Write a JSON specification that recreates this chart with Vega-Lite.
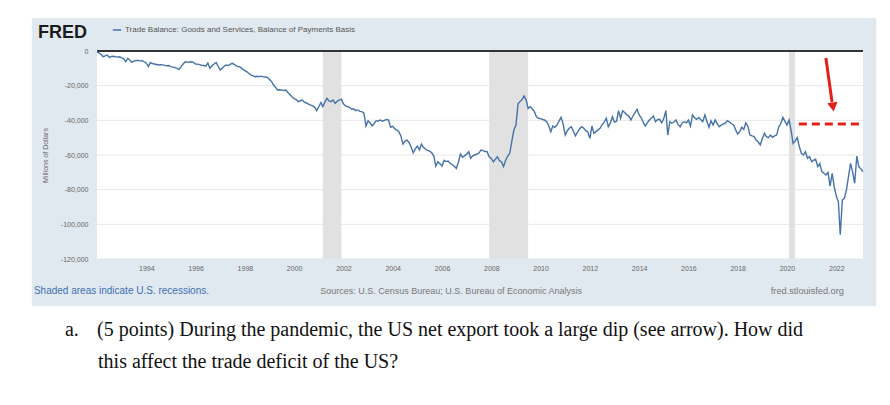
{
  "$schema": "https://vega.github.io/schema/vega-lite/v6.json",
  "width": 766,
  "height": 208,
  "autosize": {"type": "none"},
  "padding": {"left": 97, "top": 51, "right": 27, "bottom": 146},
  "background": "white",
  "config": {
    "view": {"stroke": null},
    "axis": {"labelFont": "Liberation Sans", "labelFontSize": 7, "labelColor": "#666", "titleFont": "Liberation Sans", "titleFontSize": 7, "titleFontWeight": "normal", "titleColor": "#666", "domain": false, "ticks": false, "grid": false, "labelOverlap": false},
    "legend": {"labelFont": "Liberation Sans"}
  },
  "datasets": {
    "tb": [
      {"month":"1992-01","value":-400},{"month":"1992-02","value":-1200},{"month":"1992-03","value":-2000},{"month":"1992-04","value":-3300},{"month":"1992-05","value":-2800},{"month":"1992-06","value":-2300},{"month":"1992-07","value":-3700},{"month":"1992-08","value":-3200},{"month":"1992-09","value":-3000},{"month":"1992-10","value":-3300},{"month":"1992-11","value":-3500},{"month":"1992-12","value":-3300},
      {"month":"1993-01","value":-4000},{"month":"1993-02","value":-4500},{"month":"1993-03","value":-6200},{"month":"1993-04","value":-4200},{"month":"1993-05","value":-5200},{"month":"1993-06","value":-6500},{"month":"1993-07","value":-5800},{"month":"1993-08","value":-5500},{"month":"1993-09","value":-5400},{"month":"1993-10","value":-5700},{"month":"1993-11","value":-5600},{"month":"1993-12","value":-6200},
      {"month":"1994-01","value":-7000},{"month":"1994-02","value":-9000},{"month":"1994-03","value":-6700},{"month":"1994-04","value":-7200},{"month":"1994-05","value":-7500},{"month":"1994-06","value":-7800},{"month":"1994-07","value":-8100},{"month":"1994-08","value":-7900},{"month":"1994-09","value":-8000},{"month":"1994-10","value":-8300},{"month":"1994-11","value":-8500},{"month":"1994-12","value":-8400},
      {"month":"1995-01","value":-9000},{"month":"1995-02","value":-9300},{"month":"1995-03","value":-9600},{"month":"1995-04","value":-10000},{"month":"1995-05","value":-10600},{"month":"1995-06","value":-9000},{"month":"1995-07","value":-7500},{"month":"1995-08","value":-6200},{"month":"1995-09","value":-6400},{"month":"1995-10","value":-6500},{"month":"1995-11","value":-6200},{"month":"1995-12","value":-6600},
      {"month":"1996-01","value":-7500},{"month":"1996-02","value":-7600},{"month":"1996-03","value":-7900},{"month":"1996-04","value":-8200},{"month":"1996-05","value":-8400},{"month":"1996-06","value":-8700},{"month":"1996-07","value":-6900},{"month":"1996-08","value":-10000},{"month":"1996-09","value":-8500},{"month":"1996-10","value":-7500},{"month":"1996-11","value":-6700},{"month":"1996-12","value":-8800},
      {"month":"1997-01","value":-11000},{"month":"1997-02","value":-9800},{"month":"1997-03","value":-8800},{"month":"1997-04","value":-8100},{"month":"1997-05","value":-8400},{"month":"1997-06","value":-7600},{"month":"1997-07","value":-7100},{"month":"1997-08","value":-7800},{"month":"1997-09","value":-8700},{"month":"1997-10","value":-9000},{"month":"1997-11","value":-9500},{"month":"1997-12","value":-10600},
      {"month":"1998-01","value":-11300},{"month":"1998-02","value":-12000},{"month":"1998-03","value":-13000},{"month":"1998-04","value":-13800},{"month":"1998-05","value":-14300},{"month":"1998-06","value":-14800},{"month":"1998-07","value":-14600},{"month":"1998-08","value":-14800},{"month":"1998-09","value":-14500},{"month":"1998-10","value":-14900},{"month":"1998-11","value":-15000},{"month":"1998-12","value":-15200},
      {"month":"1999-01","value":-16500},{"month":"1999-02","value":-17700},{"month":"1999-03","value":-19500},{"month":"1999-04","value":-21000},{"month":"1999-05","value":-22500},{"month":"1999-06","value":-22400},{"month":"1999-07","value":-22600},{"month":"1999-08","value":-22800},{"month":"1999-09","value":-22500},{"month":"1999-10","value":-24000},{"month":"1999-11","value":-25200},{"month":"1999-12","value":-26400},
      {"month":"2000-01","value":-27500},{"month":"2000-02","value":-28000},{"month":"2000-03","value":-29200},{"month":"2000-04","value":-28700},{"month":"2000-05","value":-28300},{"month":"2000-06","value":-29500},{"month":"2000-07","value":-30000},{"month":"2000-08","value":-30600},{"month":"2000-09","value":-31200},{"month":"2000-10","value":-31700},{"month":"2000-11","value":-32500},{"month":"2000-12","value":-34400},
      {"month":"2001-01","value":-32000},{"month":"2001-02","value":-29800},{"month":"2001-03","value":-32100},{"month":"2001-04","value":-29500},{"month":"2001-05","value":-27300},{"month":"2001-06","value":-28800},{"month":"2001-07","value":-29200},{"month":"2001-08","value":-28300},{"month":"2001-09","value":-30200},{"month":"2001-10","value":-29000},{"month":"2001-11","value":-28200},{"month":"2001-12","value":-27900},
      {"month":"2002-01","value":-30500},{"month":"2002-02","value":-31700},{"month":"2002-03","value":-32000},{"month":"2002-04","value":-32500},{"month":"2002-05","value":-33600},{"month":"2002-06","value":-33300},{"month":"2002-07","value":-34400},{"month":"2002-08","value":-34000},{"month":"2002-09","value":-34800},{"month":"2002-10","value":-35000},{"month":"2002-11","value":-35800},{"month":"2002-12","value":-43300},
      {"month":"2003-01","value":-40200},{"month":"2003-02","value":-41500},{"month":"2003-03","value":-43300},{"month":"2003-04","value":-41800},{"month":"2003-05","value":-40200},{"month":"2003-06","value":-40500},{"month":"2003-07","value":-39800},{"month":"2003-08","value":-40500},{"month":"2003-09","value":-40000},{"month":"2003-10","value":-39500},{"month":"2003-11","value":-39800},{"month":"2003-12","value":-44000},
      {"month":"2004-01","value":-43500},{"month":"2004-02","value":-45000},{"month":"2004-03","value":-45500},{"month":"2004-04","value":-46600},{"month":"2004-05","value":-49000},{"month":"2004-06","value":-53700},{"month":"2004-07","value":-52000},{"month":"2004-08","value":-51400},{"month":"2004-09","value":-52900},{"month":"2004-10","value":-55500},{"month":"2004-11","value":-58700},{"month":"2004-12","value":-56500},
      {"month":"2005-01","value":-54800},{"month":"2005-02","value":-57100},{"month":"2005-03","value":-53700},{"month":"2005-04","value":-55500},{"month":"2005-05","value":-56700},{"month":"2005-06","value":-57300},{"month":"2005-07","value":-57800},{"month":"2005-08","value":-58700},{"month":"2005-09","value":-60500},{"month":"2005-10","value":-66400},{"month":"2005-11","value":-63900},{"month":"2005-12","value":-65000},
      {"month":"2006-01","value":-66400},{"month":"2006-02","value":-63100},{"month":"2006-03","value":-63800},{"month":"2006-04","value":-63500},{"month":"2006-05","value":-64800},{"month":"2006-06","value":-65500},{"month":"2006-07","value":-66500},{"month":"2006-08","value":-67700},{"month":"2006-09","value":-64000},{"month":"2006-10","value":-59400},{"month":"2006-11","value":-61300},{"month":"2006-12","value":-60500},
      {"month":"2007-01","value":-59500},{"month":"2007-02","value":-58100},{"month":"2007-03","value":-61900},{"month":"2007-04","value":-60500},{"month":"2007-05","value":-60000},{"month":"2007-06","value":-59500},{"month":"2007-07","value":-59000},{"month":"2007-08","value":-57100},{"month":"2007-09","value":-57500},{"month":"2007-10","value":-58000},{"month":"2007-11","value":-58100},{"month":"2007-12","value":-61000},
      {"month":"2008-01","value":-62000},{"month":"2008-02","value":-63900},{"month":"2008-03","value":-62500},{"month":"2008-04","value":-61000},{"month":"2008-05","value":-63300},{"month":"2008-06","value":-64000},{"month":"2008-07","value":-66700},{"month":"2008-08","value":-63000},{"month":"2008-09","value":-60600},{"month":"2008-10","value":-59000},{"month":"2008-11","value":-52000},{"month":"2008-12","value":-45600},
      {"month":"2009-01","value":-42700},{"month":"2009-02","value":-30500},{"month":"2009-03","value":-29200},{"month":"2009-04","value":-28000},{"month":"2009-05","value":-26000},{"month":"2009-06","value":-28300},{"month":"2009-07","value":-33100},{"month":"2009-08","value":-32100},{"month":"2009-09","value":-33500},{"month":"2009-10","value":-35000},{"month":"2009-11","value":-37900},{"month":"2009-12","value":-38800},
      {"month":"2010-01","value":-39000},{"month":"2010-02","value":-39500},{"month":"2010-03","value":-39800},{"month":"2010-04","value":-40800},{"month":"2010-05","value":-43000},{"month":"2010-06","value":-46600},{"month":"2010-07","value":-43300},{"month":"2010-08","value":-44000},{"month":"2010-09","value":-42700},{"month":"2010-10","value":-40500},{"month":"2010-11","value":-38300},{"month":"2010-12","value":-42000},
      {"month":"2011-01","value":-48500},{"month":"2011-02","value":-46000},{"month":"2011-03","value":-44600},{"month":"2011-04","value":-43700},{"month":"2011-05","value":-46000},{"month":"2011-06","value":-49000},{"month":"2011-07","value":-47000},{"month":"2011-08","value":-45000},{"month":"2011-09","value":-43700},{"month":"2011-10","value":-44500},{"month":"2011-11","value":-46000},{"month":"2011-12","value":-46600},
      {"month":"2012-01","value":-50400},{"month":"2012-02","value":-43300},{"month":"2012-03","value":-47500},{"month":"2012-04","value":-46500},{"month":"2012-05","value":-45500},{"month":"2012-06","value":-44600},{"month":"2012-07","value":-42500},{"month":"2012-08","value":-41000},{"month":"2012-09","value":-38800},{"month":"2012-10","value":-43700},{"month":"2012-11","value":-41500},{"month":"2012-12","value":-37900},
      {"month":"2013-01","value":-41000},{"month":"2013-02","value":-40500},{"month":"2013-03","value":-34400},{"month":"2013-04","value":-38800},{"month":"2013-05","value":-34500},{"month":"2013-06","value":-35500},{"month":"2013-07","value":-36900},{"month":"2013-08","value":-37500},{"month":"2013-09","value":-39800},{"month":"2013-10","value":-37500},{"month":"2013-11","value":-35500},{"month":"2013-12","value":-33600},
      {"month":"2014-01","value":-36900},{"month":"2014-02","value":-38500},{"month":"2014-03","value":-41000},{"month":"2014-04","value":-43300},{"month":"2014-05","value":-41500},{"month":"2014-06","value":-39800},{"month":"2014-07","value":-38800},{"month":"2014-08","value":-37500},{"month":"2014-09","value":-40800},{"month":"2014-10","value":-39500},{"month":"2014-11","value":-39400},{"month":"2014-12","value":-41400},
      {"month":"2015-01","value":-39000},{"month":"2015-02","value":-34400},{"month":"2015-03","value":-48500},{"month":"2015-04","value":-40800},{"month":"2015-05","value":-41700},{"month":"2015-06","value":-41000},{"month":"2015-07","value":-39800},{"month":"2015-08","value":-42500},{"month":"2015-09","value":-43700},{"month":"2015-10","value":-41500},{"month":"2015-11","value":-40800},{"month":"2015-12","value":-41500},
      {"month":"2016-01","value":-39800},{"month":"2016-02","value":-43300},{"month":"2016-03","value":-36900},{"month":"2016-04","value":-38500},{"month":"2016-05","value":-39400},{"month":"2016-06","value":-38300},{"month":"2016-07","value":-39500},{"month":"2016-08","value":-40800},{"month":"2016-09","value":-36900},{"month":"2016-10","value":-40500},{"month":"2016-11","value":-44000},{"month":"2016-12","value":-40200},
      {"month":"2017-01","value":-42700},{"month":"2017-02","value":-39800},{"month":"2017-03","value":-41800},{"month":"2017-04","value":-43700},{"month":"2017-05","value":-42800},{"month":"2017-06","value":-42000},{"month":"2017-07","value":-41700},{"month":"2017-08","value":-40200},{"month":"2017-09","value":-41000},{"month":"2017-10","value":-42000},{"month":"2017-11","value":-42700},{"month":"2017-12","value":-45500},
      {"month":"2018-01","value":-47900},{"month":"2018-02","value":-46500},{"month":"2018-03","value":-44000},{"month":"2018-04","value":-45200},{"month":"2018-05","value":-41400},{"month":"2018-06","value":-43500},{"month":"2018-07","value":-48500},{"month":"2018-08","value":-49000},{"month":"2018-09","value":-49400},{"month":"2018-10","value":-51400},{"month":"2018-11","value":-52500},{"month":"2018-12","value":-54200},
      {"month":"2019-01","value":-50500},{"month":"2019-02","value":-47500},{"month":"2019-03","value":-49400},{"month":"2019-04","value":-50000},{"month":"2019-05","value":-48500},{"month":"2019-06","value":-49800},{"month":"2019-07","value":-49000},{"month":"2019-08","value":-48500},{"month":"2019-09","value":-43700},{"month":"2019-10","value":-42000},{"month":"2019-11","value":-38300},{"month":"2019-12","value":-40500},
      {"month":"2020-01","value":-42700},{"month":"2020-02","value":-39800},{"month":"2020-03","value":-45600},{"month":"2020-04","value":-53300},{"month":"2020-05","value":-52000},{"month":"2020-06","value":-50000},{"month":"2020-07","value":-55000},{"month":"2020-08","value":-59000},{"month":"2020-09","value":-60000},{"month":"2020-10","value":-58100},{"month":"2020-11","value":-61900},{"month":"2020-12","value":-61000},
      {"month":"2021-01","value":-63900},{"month":"2021-02","value":-63000},{"month":"2021-03","value":-62500},{"month":"2021-04","value":-66700},{"month":"2021-05","value":-65000},{"month":"2021-06","value":-69600},{"month":"2021-07","value":-70500},{"month":"2021-08","value":-71500},{"month":"2021-09","value":-70000},{"month":"2021-10","value":-77900},{"month":"2021-11","value":-70600},{"month":"2021-12","value":-78300},
      {"month":"2022-01","value":-83700},{"month":"2022-02","value":-87000},{"month":"2022-03","value":-106000},{"month":"2022-04","value":-86000},{"month":"2022-05","value":-85000},{"month":"2022-06","value":-80000},{"month":"2022-07","value":-72500},{"month":"2022-08","value":-64800},{"month":"2022-09","value":-70000},{"month":"2022-10","value":-76300},{"month":"2022-11","value":-60600},{"month":"2022-12","value":-66800},
      {"month":"2023-01","value":-68000},{"month":"2023-02","value":-69600}
    ],
    "recessions": [
      {"start":"2001-03-01","end":"2001-11-30"},
      {"start":"2007-12-01","end":"2009-06-30"},
      {"start":"2020-02-01","end":"2020-04-30"}
    ],
    "grid": [{"tick":-20000},{"tick":-40000},{"tick":-60000},{"tick":-80000},{"tick":-100000},{"tick":-120000}]
  },
  "layer": [
    {
      "data": {"values": [{}]},
      "mark": {"type": "rect", "color": "#e1e9f0"},
      "encoding": {
        "x": {"datum": {"year": 1989, "month": 5, "date": 10, "utc": true}, "type": "temporal",
              "scale": {"type": "utc", "domain": [{"year": 1992, "month": 1, "date": 1, "utc": true}, {"year": 2023, "month": 2, "date": 1, "utc": true}]},
              "axis": {"title": null, "format": "%Y", "labelPadding": 5, "zindex": 2, "labelOverlap": false,
                       "values": [{"year":1994,"utc":true},{"year":1996,"utc":true},{"year":1998,"utc":true},{"year":2000,"utc":true},{"year":2002,"utc":true},{"year":2004,"utc":true},{"year":2006,"utc":true},{"year":2008,"utc":true},{"year":2010,"utc":true},{"year":2012,"utc":true},{"year":2014,"utc":true},{"year":2016,"utc":true},{"year":2018,"utc":true},{"year":2020,"utc":true},{"year":2022,"utc":true}]}},
        "x2": {"datum": {"year": 2023, "month": 8, "date": 16, "utc": true}},
        "y": {"datum": 19040, "type": "quantitative",
              "scale": {"domain": [-120000, 0], "nice": false, "zero": false},
              "axis": {"title": "Millions of Dollars", "titleX": -49, "labelPadding": 9, "zindex": 2, "labelOverlap": false, "tickCount": 7,
                       "values": [0, -20000, -40000, -60000, -80000, -100000, -120000],
                       "labelExpr": "datum.value < 0 ? '-' + format(-datum.value, ',') : '0'"}},
        "y2": {"datum": -147100}
      }
    },
    {
      "data": {"values": [{}]},
      "mark": {"type": "rect", "color": "#ffffff"},
      "encoding": {
        "x": {"datum": {"year": 1992, "month": 1, "date": 1, "utc": true}, "type": "temporal"},
        "x2": {"datum": {"year": 2023, "month": 2, "date": 1, "utc": true}},
        "y": {"datum": 0, "type": "quantitative"},
        "y2": {"datum": -120000}
      }
    },
    {
      "data": {"name": "grid"},
      "mark": {"type": "rule", "color": "#e6e6e6", "strokeWidth": 1},
      "encoding": {"y": {"field": "tick", "type": "quantitative", "title": "Millions of Dollars",
                         "axis": {"title": "Millions of Dollars", "titleX": -49, "labelPadding": 9, "zindex": 2, "labelOverlap": false, "tickCount": 7,
                                  "values": [0, -20000, -40000, -60000, -80000, -100000, -120000],
                                  "labelExpr": "datum.value < 0 ? '-' + format(-datum.value, ',') : '0'"}}}
    },
    {
      "data": {"name": "recessions"},
      "mark": {"type": "rect", "color": "#e1e1e1"},
      "encoding": {
        "x": {"field": "start", "type": "temporal", "title": null},
        "x2": {"field": "end"},
        "y": {"datum": 0, "type": "quantitative"},
        "y2": {"datum": -120000}
      }
    },
    {
      "data": {"values": [{}]},
      "mark": {"type": "rule", "color": "#333333", "strokeWidth": 2.2},
      "encoding": {"y": {"datum": 0, "type": "quantitative"}}
    },
    {
      "data": {"name": "tb"},
      "mark": {"type": "line", "strokeWidth": 1.4, "interpolate": "linear"},
      "encoding": {
        "x": {"field": "month", "type": "temporal", "title": null},
        "y": {"field": "value", "type": "quantitative", "title": "Millions of Dollars",
              "axis": {"title": "Millions of Dollars", "titleX": -49, "labelPadding": 9, "zindex": 2, "labelOverlap": false, "tickCount": 7,
                       "values": [0, -20000, -40000, -60000, -80000, -100000, -120000],
                       "labelExpr": "datum.value < 0 ? '-' + format(-datum.value, ',') : '0'"}},
        "color": {"datum": "Trade Balance: Goods and Services, Balance of Payments Basis",
                  "scale": {"range": ["#4572a7"]},
                  "legend": {"title": null, "orient": "none", "legendX": 15, "legendY": -26, "symbolType": "stroke", "symbolSize": 70, "symbolStrokeWidth": 1.5, "labelFontSize": 8, "labelColor": "#555", "labelOffset": 3, "labelLimit": 500}}
      }
    },
    {
      "data": {"values": [{}]},
      "mark": {"type": "rule", "color": "#e3201b", "strokeWidth": 3, "strokeDash": [8, 5]},
      "encoding": {
        "x": {"datum": {"year": 2020, "month": 6, "date": 25, "utc": true}, "type": "temporal"},
        "x2": {"datum": {"year": 2023, "month": 2, "date": 1, "utc": true}},
        "y": {"datum": -42100, "type": "quantitative"}
      }
    },
    {
      "data": {"values": [{}]},
      "mark": {"type": "rule", "color": "#e3201b", "strokeWidth": 3},
      "encoding": {
        "x": {"datum": {"year": 2021, "month": 7, "date": 31, "utc": true}, "type": "temporal"},
        "x2": {"datum": {"year": 2021, "month": 10, "date": 30, "utc": true}},
        "y": {"datum": -4040, "type": "quantitative"},
        "y2": {"datum": -29400}
      }
    },
    {
      "data": {"values": [{}]},
      "mark": {"type": "point", "shape": "triangle-down", "filled": true, "color": "#e3201b", "opacity": 1, "size": 110, "angle": -8},
      "encoding": {
        "x": {"datum": {"year": 2021, "month": 11, "date": 14, "utc": true}, "type": "temporal"},
        "y": {"datum": -32300, "type": "quantitative"}
      }
    },
    {
      "data": {"values": [{}]},
      "mark": {"type": "text", "text": "FRED", "font": "Liberation Sans", "fontSize": 18, "fontWeight": 900, "color": "#1b1b1b", "align": "left", "baseline": "alphabetic"},
      "encoding": {
        "x": {"datum": {"year": 1989, "month": 8, "date": 8, "utc": true}, "type": "temporal"},
        "y": {"datum": 7330, "type": "quantitative"}
      }
    },
    {
      "data": {"values": [{}]},
      "mark": {"type": "text", "text": "Shaded areas indicate U.S. recessions.", "font": "Liberation Sans", "fontSize": 10, "color": "#3d6fb0", "align": "left", "baseline": "alphabetic"},
      "encoding": {
        "x": {"datum": {"year": 1989, "month": 6, "date": 10, "utc": true}, "type": "temporal"},
        "y": {"datum": -140480, "type": "quantitative"}
      }
    },
    {
      "data": {"values": [{}]},
      "mark": {"type": "text", "text": "Sources: U.S. Census Bureau; U.S. Bureau of Economic Analysis", "font": "Liberation Sans", "fontSize": 9, "color": "#777777", "align": "left", "baseline": "alphabetic"},
      "encoding": {
        "x": {"datum": {"year": 2001, "month": 1, "date": 23, "utc": true}, "type": "temporal"},
        "y": {"datum": -140480, "type": "quantitative"}
      }
    },
    {
      "data": {"values": [{}]},
      "mark": {"type": "text", "text": "fred.stlouisfed.org", "font": "Liberation Sans", "fontSize": 9.2, "color": "#777777", "align": "right", "baseline": "alphabetic"},
      "encoding": {
        "x": {"datum": {"year": 2022, "month": 4, "date": 23, "utc": true}, "type": "temporal"},
        "y": {"datum": -140480, "type": "quantitative"}
      }
    },
    {
      "data": {"values": [{}]},
      "mark": {"type": "text", "text": "a.", "font": "Liberation Serif", "fontSize": 20, "color": "#111111", "align": "left", "baseline": "alphabetic"},
      "encoding": {
        "x": {"datum": {"year": 1990, "month": 9, "date": 13, "utc": true}, "type": "temporal"},
        "y": {"datum": -164400, "type": "quantitative"}
      }
    },
    {
      "data": {"values": [{}]},
      "mark": {"type": "text", "text": "(5 points) During the pandemic, the US net export took a large dip (see arrow). How did", "font": "Liberation Serif", "fontSize": 20, "color": "#111111", "align": "left", "baseline": "alphabetic"},
      "encoding": {
        "x": {"datum": {"year": 1992, "month": 1, "date": 1, "utc": true}, "type": "temporal"},
        "y": {"datum": -164400, "type": "quantitative"}
      }
    },
    {
      "data": {"values": [{}]},
      "mark": {"type": "text", "text": "this affect the trade deficit of the US?", "font": "Liberation Serif", "fontSize": 20, "color": "#111111", "align": "left", "baseline": "alphabetic"},
      "encoding": {
        "x": {"datum": {"year": 1992, "month": 1, "date": 16, "utc": true}, "type": "temporal"},
        "y": {"datum": -182900, "type": "quantitative"}
      }
    }
  ]
}
